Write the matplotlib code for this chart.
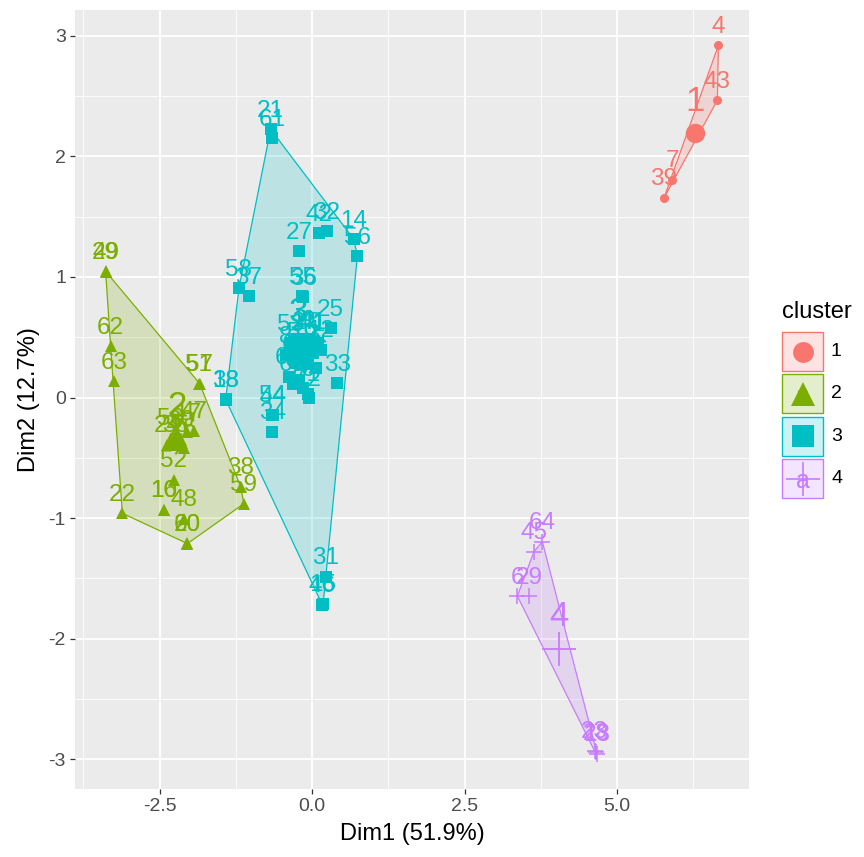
import matplotlib
matplotlib.use("Agg")
import matplotlib.pyplot as plt
from matplotlib.patches import Polygon, Rectangle
import numpy as np

plt.rcParams['font.family'] = ['Liberation Sans', 'DejaVu Sans']
plt.rcParams['axes.unicode_minus'] = False

# ---------------- data ----------------
cluster_names = ['1', '2', '3', '4']
cluster_colors = ['#F8766D', '#7CAE00', '#00BFC4', '#C77CFF']
cluster_markers = ['o', '^', 's', '+']

c1_labels = ['4', '43', '7', '39']
c1_x = [6.659, 6.643, 5.905, 5.767]
c1_y = [2.919, 2.465, 1.807, 1.654]

c2_labels = ['29', '49', '62', '63', '51', '57', '47', '17', '50', '30', '24', '35', '26',
             '52', '10', '16', '48', '20', '60', '22', '38', '59']
c2_x = [-3.385, -3.383, -3.303, -3.249, -1.861, -1.844, -1.938, -2.046, -2.320, -2.156, -2.374,
        -2.238, -2.107, -2.266, -2.430, -2.428, -2.107, -2.046, -2.044, -3.111, -1.172, -1.118]
c2_y = [1.046, 1.044, 0.423, 0.133, 0.116, 0.116, -0.274, -0.290, -0.332, -0.349, -0.390,
        -0.390, -0.415, -0.681, -0.929, -0.931, -1.004, -1.209, -1.211, -0.960, -0.739, -0.880]

c3_labels = ['21', '61', '42', '32', '27', '14', '56', '58', '37', '55', '36', '25', '40', '41',
             '11', '33', '54', '44', '34', '18', '38', '31', '46', '15',
             '53', '2', '9', '1', '12', '5', '19', '3', '8', '65', '6', '66', '67', '68', '69',
             '70', '71', '72']
c3_x = [-0.680, -0.652, 0.107, 0.238, -0.216, 0.685, 0.741, -1.200, -1.036, -0.161, -0.148,
        0.303, -0.057, 0.008, -0.139, 0.413, -0.652, -0.639, -0.652, -1.418, -1.416, 0.221,
        0.167, 0.180,
        -0.352, -0.221, -0.057, 0.090, 0.139, -0.303, -0.139, 0.008, -0.434, -0.270, -0.074,
        0.057, -0.385, -0.221, -0.320, -0.156, -0.074, -0.057]
c3_y = [2.224, 2.149, 1.361, 1.378, 1.212, 1.311, 1.170, 0.905, 0.838, 0.838, 0.830,
        0.573, 0.465, 0.465, 0.481, 0.119, -0.141, -0.149, -0.282, -0.017, -0.015, -1.485,
        -1.718, -1.710,
        0.448, 0.465, 0.481, 0.448, 0.398, 0.382, 0.365, 0.365, 0.349, 0.282, 0.274,
        0.241, 0.174, 0.149, 0.116, 0.075, 0.033, -0.008]

c4_labels = ['64', '45', '6', '29', '23', '28', '13']
c4_x = [3.774, 3.636, 3.364, 3.554, 4.630, 4.650, 4.670]
c4_y = [-1.195, -1.278, -1.646, -1.646, -2.930, -2.940, -2.952]

center_x = [6.270, -2.210, -0.220, 4.046]
center_y = [2.193, -0.338, 0.440, -2.081]

x_title = 'Dim1 (51.9%)'
y_title = 'Dim2 (12.7%)'
x_ticks = [-2.5, 0.0, 2.5, 5.0]
x_ticklabels = ['-2.5', '0.0', '2.5', '5.0']
y_ticks = [-3, -2, -1, 0, 1, 2, 3]
y_ticklabels = ['-3', '-2', '-1', '0', '1', '2', '3']
legend_title = 'cluster'

clusters = [
    (c1_labels, c1_x, c1_y),
    (c2_labels, c2_x, c2_y),
    (c3_labels, c3_x, c3_y),
    (c4_labels, c4_x, c4_y),
]


def convex_hull(xs, ys):
    pts = sorted(set(zip(xs, ys)))
    if len(pts) <= 2:
        return pts

    def cross(o, a, b):
        return (a[0] - o[0]) * (b[1] - o[1]) - (a[1] - o[1]) * (b[0] - o[0])

    lower = []
    for p in pts:
        while len(lower) >= 2 and cross(lower[-2], lower[-1], p) <= 0:
            lower.pop()
        lower.append(p)
    upper = []
    for p in reversed(pts):
        while len(upper) >= 2 and cross(upper[-2], upper[-1], p) <= 0:
            upper.pop()
        upper.append(p)
    return lower[:-1] + upper[:-1]


# ---------------- figure ----------------
W, H = 864, 857
fig = plt.figure(figsize=(W / 100, H / 100), dpi=100)
fig.patch.set_facecolor('white')
ax = fig.add_axes([75 / W, (H - 789) / H, (749 - 75) / W, (789 - 10) / H])
ax.set_facecolor('#EBEBEB')

allx = np.concatenate([np.array(c[1]) for c in clusters])
ally = np.concatenate([np.array(c[2]) for c in clusters])
dx = (allx.max() - allx.min()) * 0.05
dy = (ally.max() - ally.min()) * 0.05
ax.set_xlim(allx.min() - dx, allx.max() + dx)
ax.set_ylim(ally.min() - dy, ally.max() + dy)

ax.set_xticks(x_ticks)
ax.set_xticklabels(x_ticklabels)
ax.set_yticks(y_ticks)
ax.set_yticklabels(y_ticklabels)
ax.set_xticks([-3.75, -1.25, 1.25, 3.75, 6.25], minor=True)
ax.set_yticks([-2.5, -1.5, -0.5, 0.5, 1.5, 2.5], minor=True)
ax.grid(which='major', color='white', linewidth=1.3)
ax.grid(which='minor', color='white', linewidth=0.6)
ax.set_axisbelow(True)
for s in ax.spines.values():
    s.set_visible(False)
ax.tick_params(which='major', length=3.5, width=0.9, color='#333333',
               labelsize=14, labelcolor='#4D4D4D', pad=3)
ax.tick_params(which='minor', length=0)

pt_sizes = [6.5, 9, 8.5, 12]
ctr_sizes = [14, 16, 16, 24]

for i, (labs, xs, ys) in enumerate(clusters):
    col = cluster_colors[i]
    hull = convex_hull(xs, ys)
    ax.add_patch(Polygon(hull, closed=True, facecolor=col, alpha=0.2,
                         edgecolor='none', zorder=1))
    ax.add_patch(Polygon(hull, closed=True, facecolor='none', edgecolor=col,
                         linewidth=0.9, zorder=1.1))
    m = cluster_markers[i]
    if m == '+':
        ax.plot(xs, ys, ls='none', marker=m, ms=pt_sizes[i], mew=1.1, color=col, zorder=2)
    else:
        ax.plot(xs, ys, ls='none', marker=m, ms=pt_sizes[i], mew=0, color=col, zorder=2)
    for lab, x, y in zip(labs, xs, ys):
        ax.annotate(lab, (x, y), xytext=(0, 9), textcoords='offset points',
                    ha='center', va='baseline', fontsize=17.5, color=col, zorder=3)

for i in range(4):
    col = cluster_colors[i]
    m = cluster_markers[i]
    ax.plot([center_x[i]], [center_y[i]], ls='none', marker=m, ms=ctr_sizes[i],
            mew=(1.3 if m == '+' else 0), color=col, zorder=4)
    ax.annotate(cluster_names[i], (center_x[i], center_y[i]), xytext=(0, 16),
                textcoords='offset points', ha='center', va='baseline',
                fontsize=25, color=col, zorder=5)

ax.set_xlabel(x_title, fontsize=17, color='black', labelpad=6)
ax.set_ylabel(y_title, fontsize=17, color='black', labelpad=6)

# ---------------- legend (pixel overlay) ----------------
lax = fig.add_axes([0, 0, 1, 1], facecolor='none')
lax.set_xlim(0, W)
lax.set_ylim(H, 0)
lax.axis('off')
lax.text(782, 312, legend_title, fontsize=17, ha='left', va='center', color='black')
key_w, key_h = 41, 39
for i in range(4):
    col = cluster_colors[i]
    y0 = 332 + i * 42.4
    cx, cy = 782 + key_w / 2, y0 + key_h / 2
    lax.add_patch(Rectangle((782, y0), key_w, key_h, facecolor=col, alpha=0.2, edgecolor='none'))
    lax.add_patch(Rectangle((782, y0), key_w, key_h, facecolor='none', edgecolor=col, linewidth=1.0))
    lax.text(cx, cy + 2, 'a', fontsize=18, ha='center', va='center', color=col)
    m = cluster_markers[i]
    lax.plot([cx], [cy], ls='none', marker=m, ms=[15, 17, 16, 24][i],
             mew=(1.2 if m == '+' else 0), color=col)
    lax.text(831, cy, cluster_names[i], fontsize=14, ha='left', va='center', color='black')

fig.savefig('out.png', dpi=100, facecolor='white')
